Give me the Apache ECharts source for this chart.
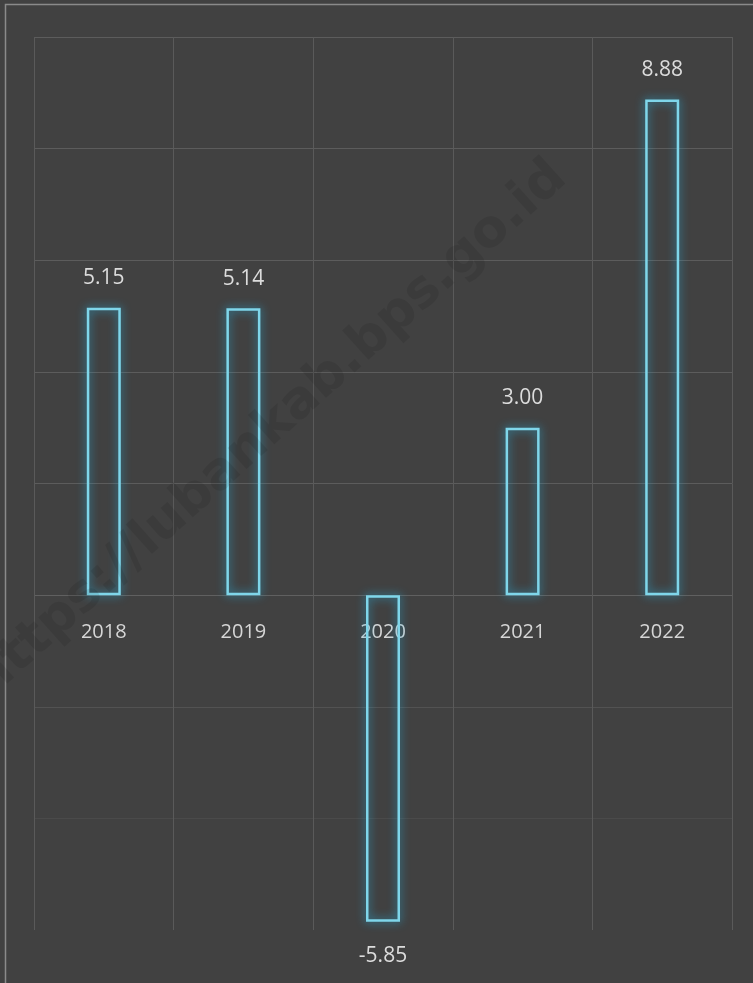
<!DOCTYPE html>
<html><head><meta charset="utf-8">
<script src="https://cdn.jsdelivr.net/npm/echarts@6/dist/echarts.min.js"></script>
<style>html,body{margin:0;padding:0;background:#414141;}#c{width:753px;height:983px;}</style>
</head><body><div id="c"></div>
<script>
const categories = ['2018', '2019', '2020', '2021', '2022'];
const values = [5.15, 5.14, -5.85, 3.00, 8.88];
const valueLabels = ['5.15', '5.14', '-5.85', '3.00', '8.88'];

const chart = echarts.init(document.getElementById('c'));
chart.setOption({
  backgroundColor: '#414141',
  animation: false,
  grid: { left: 34, right: 21, top: 37, bottom: 53 },
  xAxis: {
    type: 'category',
    data: categories,
    offset: -335,
    axisLine: { show: false, onZero: false },
    axisTick: { show: false },
    axisLabel: { color: '#d6d6d6', fontSize: 20, fontFamily: 'Open Sans', margin: 27 },
    splitLine: { show: true, lineStyle: { color: '#5a5a5a', width: 1 } }
  },
  yAxis: {
    type: 'value',
    min: -6, max: 10, interval: 2,
    axisLabel: { show: false },
    axisLine: { show: false },
    axisTick: { show: false },
    splitLine: { lineStyle: { color: ['transparent', '#4a4a4a', '#525252', '#606060', '#5c5c5c', '#5c5c5c', '#5c5c5c', '#5c5c5c', '#5c5c5c'], width: 1 } }
  },
  graphic: [
    { type: 'rect', left: 3, top: 2, shape: { width: 760, height: 990 }, style: { fill: 'none', stroke: '#8a8a8a', lineWidth: 1.5 }, silent: true },
    { type: 'text', x: 270, y: 430, rotation: Math.PI / 4.3, style: { text: 'https://lubankab.bps.go.id', fill: 'rgba(0,0,0,0.09)', font: 'bold 52px "DejaVu Sans"', textAlign: 'center', textVerticalAlign: 'middle' }, silent: true, z: 100 }
  ],
  series: [{
    type: 'bar',
    barWidth: 34,
    data: values.map((v, i) => ({
      value: v,
      label: { position: v < 0 ? 'bottom' : 'top', distance: v < 0 ? 24 : 19, formatter: valueLabels[i] }
    })),
    itemStyle: {
      color: 'rgba(0,0,0,0)',
      borderColor: '#7fd6ea',
      borderWidth: 2.5,
      shadowColor: 'rgba(40,170,215,1)',
      shadowBlur: 10
    },
    label: { show: true, color: '#dcdcdc', fontSize: 21, fontFamily: 'Open Sans' }
  }]
});
</script></body></html>
